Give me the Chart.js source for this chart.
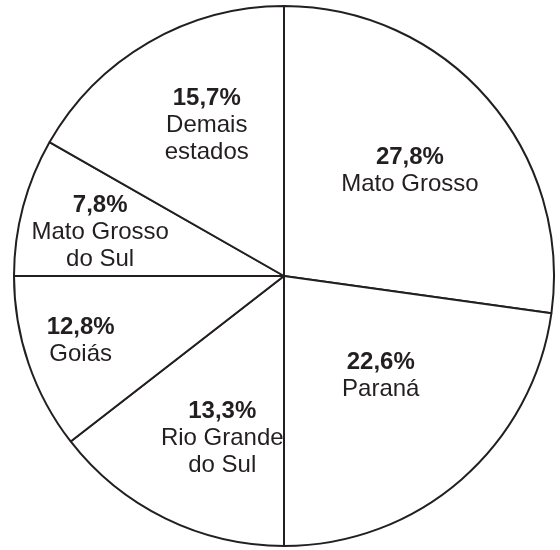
<!DOCTYPE html>
<html>
<head>
<meta charset="utf-8">
<script src="https://cdn.jsdelivr.net/npm/chart.js@4/dist/chart.umd.min.js"></script>
<style>
html,body{margin:0;padding:0;background:#fff;}
#wrap{width:560px;height:550px;position:relative;}
</style>
</head>
<body>
<div id="wrap"><canvas id="c"></canvas></div>
<script>
const categories = ["Mato Grosso", "Paraná", "Rio Grande do Sul", "Goiás", "Mato Grosso do Sul", "Demais estados"];
const labelLines = [["Mato Grosso"], ["Paraná"], ["Rio Grande", "do Sul"], ["Goiás"], ["Mato Grosso", "do Sul"], ["Demais", "estados"]];
// printed percentages (labels)
const percentLabels = ["27,8%", "22,6%", "13,3%", "12,8%", "7,8%", "15,7%"];
// slice sizes as drawn in the picture (measured wedge angles, in % of circle)
const sliceSizes = [27.2, 22.8, 14.5, 10.5, 8.25, 16.75];

// label placement: fraction of radius and angle offset (degrees) from slice mid-angle
const labelRadius = [0.607, 0.515, 0.644, 0.79, 0.70, 0.626];
const labelAngleShift = [1.25, -3.05, -5.3, 1.3, -1.45, 2.95];

const ink = '#231f20';

const labelPlugin = {
  id: 'sliceLabels',
  afterDatasetsDraw(chart) {
    const ctx = chart.ctx;
    const meta = chart.getDatasetMeta(0);
    ctx.save();
    ctx.fillStyle = ink;
    ctx.textAlign = 'center';
    ctx.textBaseline = 'middle';
    meta.data.forEach((arc, i) => {
      const p = arc.getProps(['x','y','startAngle','endAngle','outerRadius'], true);
      const mid = (p.startAngle + p.endAngle) / 2 + labelAngleShift[i] * Math.PI / 180;
      const r = p.outerRadius * labelRadius[i];
      const cx = p.x + Math.cos(mid) * r;
      const cy = p.y + Math.sin(mid) * r;
      const lines = [{t: percentLabels[i], bold: true}]
        .concat(labelLines[i].map(t => ({t, bold: false})));
      const lh = 27;
      const top = cy - (lines.length - 1) * lh / 2;
      lines.forEach((ln, k) => {
        ctx.font = (ln.bold ? 'bold ' : '') + '24px "Liberation Sans", Arial, sans-serif';
        ctx.fillText(ln.t, cx, top + k * lh);
      });
    });
    ctx.restore();
  }
};

new Chart(document.getElementById('c'), {
  type: 'pie',
  data: {
    labels: categories,
    datasets: [{
      data: sliceSizes,
      backgroundColor: '#ffffff',
      borderColor: ink,
      borderWidth: 2,
      hoverOffset: 0
    }]
  },
  options: {
    responsive: true,
    maintainAspectRatio: false,
    animation: false,
    layout: { padding: { left: 13, right: 5, top: 5, bottom: 3 } },
    plugins: {
      legend: { display: false },
      tooltip: { enabled: false }
    }
  },
  plugins: [labelPlugin]
});
</script>
</body>
</html>
